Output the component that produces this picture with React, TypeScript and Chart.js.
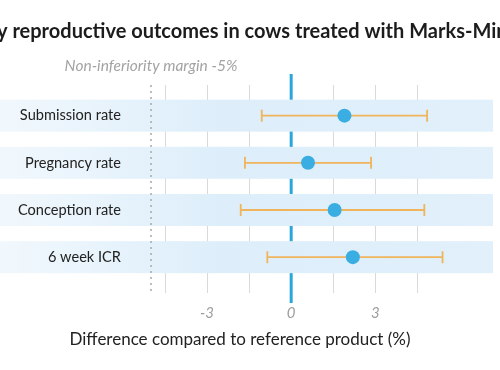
import React, { useEffect, useRef } from 'react';
import { Chart, registerables } from 'chart.js';

Chart.register(...registerables);

const categories = ['Submission rate', 'Pregnancy rate', 'Conception rate', '6 week ICR'];
const estimates = [1.9, 0.6, 1.55, 2.2];
const lowerCI = [-1.05, -1.65, -1.8, -0.85];
const upperCI = [4.85, 2.85, 4.75, 5.4];
const gridValues = [-4.5, -3, -1.5, 0, 1.5, 3, 4.5];
const tickLabels = [-3, 0, 3];
const marginValue = -5;
const titleText = 'y reproductive outcomes in cows treated with Marks-Min';
const marginLabel = 'Non-inferiority margin -5%';
const xAxisTitle = 'Difference compared to reference product (%)';

const FONT = 'Lato, "Open Sans", sans-serif';

const forestPlugin = {
  id: 'forest',
  beforeDatasetsDraw(chart: any) {
    const { ctx, chartArea, scales } = chart;
    const x = scales.x;
    const y = scales.y;
    const x0 = x.getPixelForValue(0);
    ctx.save();
    // zero reference line
    ctx.strokeStyle = '#2ba6da';
    ctx.lineWidth = 3;
    ctx.beginPath();
    ctx.moveTo(x0, chartArea.top - 11);
    ctx.lineTo(x0, chartArea.bottom + 10);
    ctx.stroke();
    // row bands
    const grad = ctx.createLinearGradient(0, 0, chartArea.right, 0);
    grad.addColorStop(0, '#f1f8fd');
    grad.addColorStop(0.45, '#ddeefa');
    grad.addColorStop(1, '#e1f0fb');
    ctx.fillStyle = grad;
    categories.forEach((_, i) => {
      const yc = y.getPixelForValue(i);
      ctx.fillRect(0, yc - 16, chartArea.right, 32);
    });
    // non-inferiority margin
    const xm = x.getPixelForValue(marginValue);
    ctx.strokeStyle = '#a9a9a9';
    ctx.lineWidth = 1.5;
    ctx.setLineDash([2, 4]);
    ctx.beginPath();
    ctx.moveTo(xm, chartArea.top);
    ctx.lineTo(xm, chartArea.bottom);
    ctx.stroke();
    ctx.setLineDash([]);
    // error bars
    ctx.strokeStyle = '#f0b45c';
    ctx.lineWidth = 1.8;
    categories.forEach((_, i) => {
      const yc = y.getPixelForValue(i);
      const xl = x.getPixelForValue(lowerCI[i]);
      const xu = x.getPixelForValue(upperCI[i]);
      ctx.beginPath();
      ctx.moveTo(xl, yc);
      ctx.lineTo(xu, yc);
      ctx.moveTo(xl, yc - 6);
      ctx.lineTo(xl, yc + 6);
      ctx.moveTo(xu, yc - 6);
      ctx.lineTo(xu, yc + 6);
      ctx.stroke();
    });
    ctx.restore();
  },
  afterDraw(chart: any) {
    const { ctx, scales } = chart;
    const x = scales.x;
    ctx.save();
    ctx.fillStyle = '#1c1c1c';
    ctx.font = `bold 20px ${FONT}`;
    ctx.textAlign = 'left';
    ctx.textBaseline = 'alphabetic';
    ctx.fillText(titleText, -3, 38);
    ctx.fillStyle = '#a3a3a3';
    ctx.font = `italic 15.5px ${FONT}`;
    ctx.textAlign = 'center';
    ctx.textBaseline = 'middle';
    ctx.fillText(marginLabel, x.getPixelForValue(marginValue), 66);
    ctx.fillStyle = '#222222';
    ctx.font = `17px ${FONT}`;
    ctx.fillText(xAxisTitle, 240, 340);
    ctx.restore();
  },
};

export default function App() {
  const ref = useRef<HTMLCanvasElement | null>(null);
  useEffect(() => {
    if (!ref.current) return;
    const chart = new Chart(ref.current, {
      type: 'scatter',
      data: {
        datasets: [
          {
            data: estimates.map((v, i) => ({ x: v, y: i })),
            backgroundColor: '#3aade2',
            borderWidth: 0,
            pointRadius: 7,
            pointHoverRadius: 7,
          },
        ],
      },
      options: {
        responsive: false,
        animation: false,
        layout: { padding: { top: 85, right: 7, bottom: 47, left: 0 } },
        plugins: { legend: { display: false }, tooltip: { enabled: false }, title: { display: false } },
        scales: {
          x: {
            type: 'linear',
            min: -5.5,
            max: 7.2,
            afterBuildTicks: (scale: any) => {
              scale.ticks = gridValues.map((v) => ({ value: v }));
            },
            afterFit: (scale: any) => {
              scale.height = 30;
            },
            border: { display: false },
            grid: {
              drawTicks: false,
              color: (c: any) => (c.tick && c.tick.value === 0 ? 'rgba(0,0,0,0)' : '#d9d9d9'),
              lineWidth: 1,
            },
            ticks: {
              padding: 11,
              color: '#9d9d9d',
              font: { family: FONT, size: 15, style: 'italic' },
              callback: (v: any) => (tickLabels.includes(Number(v)) ? String(v) : ''),
              autoSkip: false,
              maxRotation: 0,
            },
          },
          y: {
            type: 'linear',
            reverse: true,
            min: -0.65,
            max: 3.76,
            afterBuildTicks: (scale: any) => {
              scale.ticks = categories.map((_, i) => ({ value: i }));
            },
            afterFit: (scale: any) => {
              scale.width = 137;
            },
            border: { display: false },
            grid: { display: false, drawTicks: false },
            ticks: {
              z: 1,
              padding: 16,
              color: '#222222',
              font: { family: FONT, size: 14.6 },
              callback: (v: any) => categories[Number(v)] ?? '',
              autoSkip: false,
            },
          },
        },
      },
      plugins: [forestPlugin],
    });
    return () => chart.destroy();
  }, []);
  return (
    <div style={{ position: 'fixed', left: 0, top: 0, width: 500, height: 370, background: '#ffffff', overflow: 'hidden' }}>
      <canvas ref={ref} width={500} height={370} />
    </div>
  );
}
